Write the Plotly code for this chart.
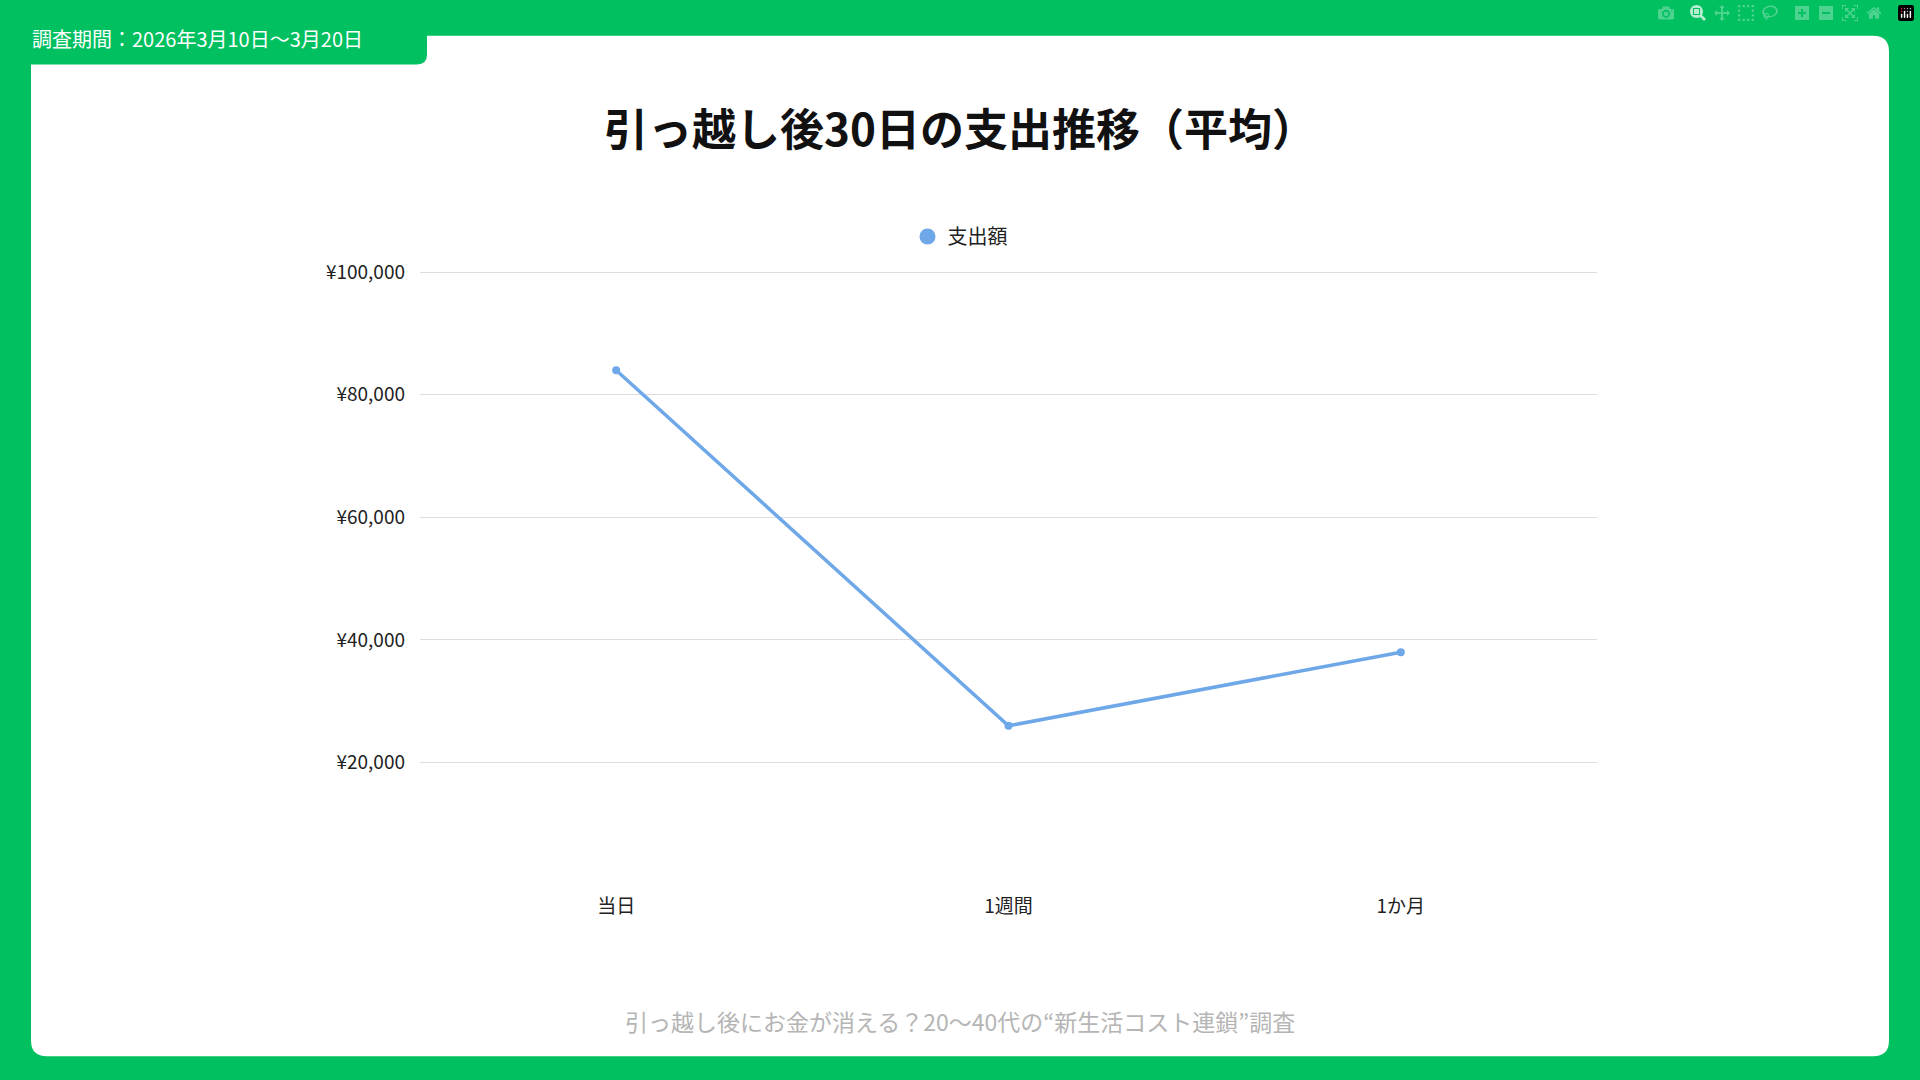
import plotly.graph_objects as go

W, H = 1920, 1080
GREEN = "#00c060"
FONT = "Noto Sans CJK JP"

categories = ["当日", "1週間", "1か月"]
spending = [84000, 26000, 38000]
tick_vals = [20000, 40000, 60000, 80000, 100000]
tick_text = ["¥20,000", "¥40,000", "¥60,000", "¥80,000", "¥100,000"]

title = "引っ越し後30日の支出推移（平均）"
period = "調査期間：2026年3月10日～3月20日"
footer = "引っ越し後にお金が消える？20〜40代の“新生活コスト連鎖”調査"


def rounded(x0, y0, x1, y1, r, corners=(1, 1, 1, 1)):
    # pixel box -> paper path; corners: tl, tr, br, bl
    fx = lambda v: v / W
    fy = lambda v: 1 - v / H
    tl, tr, br, bl = [r * c for c in corners]
    p = f"M{fx(x0 + tl)},{fy(y0)} L{fx(x1 - tr)},{fy(y0)} "
    p += f"Q{fx(x1)},{fy(y0)} {fx(x1)},{fy(y0 + tr)} L{fx(x1)},{fy(y1 - br)} "
    p += f"Q{fx(x1)},{fy(y1)} {fx(x1 - br)},{fy(y1)} L{fx(x0 + bl)},{fy(y1)} "
    p += f"Q{fx(x0)},{fy(y1)} {fx(x0)},{fy(y1 - bl)} L{fx(x0)},{fy(y0 + tl)} "
    p += f"Q{fx(x0)},{fy(y0)} {fx(x0 + tl)},{fy(y0)} Z"
    return p


fig = go.Figure()
fig.add_trace(go.Scatter(
    x=categories, y=spending, name="支出額", mode="lines+markers", showlegend=False,
    line=dict(color="#6fa8e8", width=3.5),
    marker=dict(size=8, color="#6fa8e8"),
))
# legend entry: round dot only
fig.add_trace(go.Scatter(
    x=[None], y=[None], name="支出額", mode="markers",
    marker=dict(size=20, color="#6fa8e8"),
))

fig.update_layout(
    width=W, height=H,
    margin=dict(l=0, r=0, t=0, b=0),
    paper_bgcolor=GREEN, plot_bgcolor="white",
    font=dict(family=FONT, color="#222"),
    legend=dict(orientation="h", x=0.5, xanchor="center", y=1 - 227 / H, yanchor="middle",
                font=dict(size=20), bgcolor="rgba(0,0,0,0)"),
    xaxis=dict(domain=[420 / W, 1597 / W], range=[-0.5, 2.5], showgrid=False,
               showline=False, ticks="", tickfont=dict(size=19), ticklabelstandoff=8),
    yaxis=dict(domain=[197 / H, 820 / H], range=[0, 100500], tickvals=tick_vals,
               ticktext=tick_text, gridcolor="#dddddd", gridwidth=1, zeroline=False,
               showline=False, tickfont=dict(size=19), ticklabelstandoff=14),
    shapes=[
        dict(type="path", xref="paper", yref="paper", layer="below",
             path=rounded(31, 24, 1889, 1056, 16), fillcolor="white", line=dict(width=0)),
        dict(type="path", xref="paper", yref="paper",
             path=rounded(-20, -20, 427, 53, 10, (0, 0, 1, 0)), fillcolor=GREEN, line=dict(width=0)),
    ],
    annotations=[
        dict(text=period, xref="paper", yref="paper", x=30 / W, y=1 - 27 / H,
             xanchor="left", yanchor="middle", showarrow=False,
             font=dict(size=20, color="white")),
        dict(text=f"<b>{title}</b>", xref="paper", yref="paper", x=0.5, y=1 - 116 / H,
             xanchor="center", yanchor="middle", showarrow=False,
             font=dict(size=44, color="#111")),
        dict(text=footer, xref="paper", yref="paper", x=0.5, y=1 - 1020 / H,
             xanchor="center", yanchor="middle", showarrow=False,
             font=dict(size=23, color="#b5b5b5")),
    ],
)

fig.write_html("out.html", post_script="document.body.style.margin='0';")
